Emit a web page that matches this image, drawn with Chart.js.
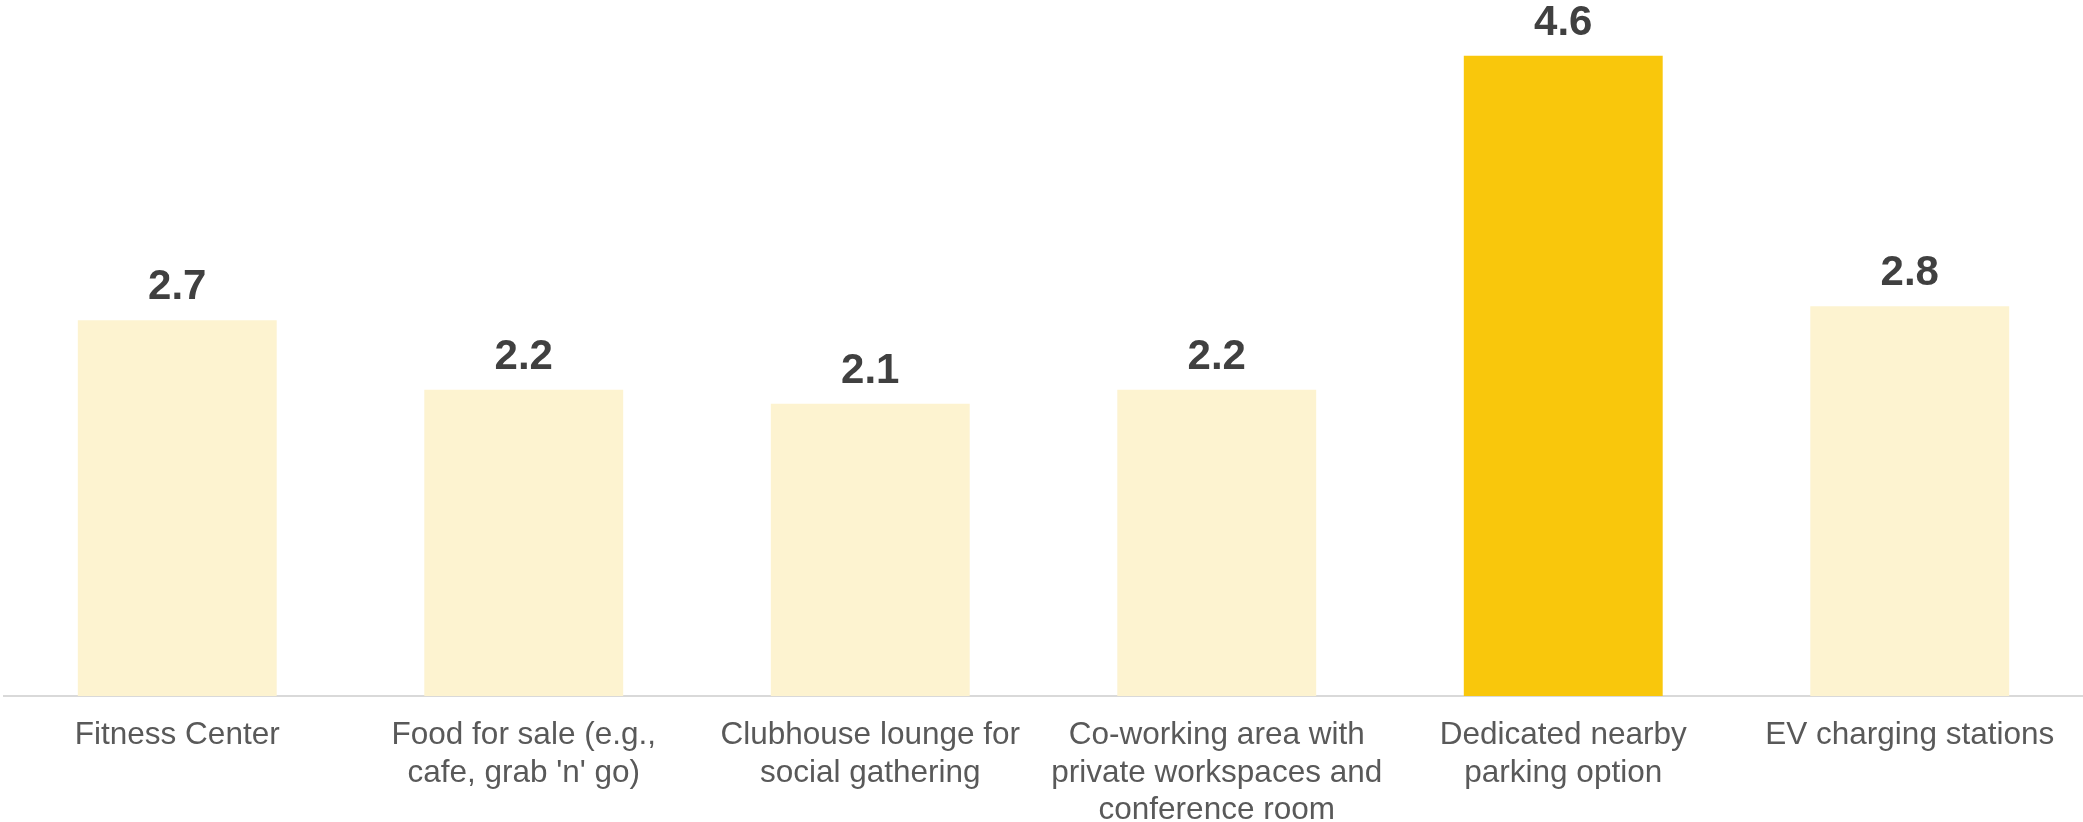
<!DOCTYPE html>
<html>
<head>
<meta charset="utf-8">
<title>Amenity ratings</title>
<script src="https://cdn.jsdelivr.net/npm/chart.js@4.4.1/dist/chart.umd.min.js"></script>
<style>
  html, body { margin: 0; padding: 0; background: #ffffff; }
  #wrap { width: 2083px; height: 822px; position: relative; }
</style>
</head>
<body>
<div id="wrap"><canvas id="chart"></canvas></div>
<script>
// Amenity categories (each entry is the list of lines shown under the bar)
const categories = [
  ["Fitness Center"],
  ["Food for sale (e.g.,", "cafe, grab 'n' go)"],
  ["Clubhouse lounge for", "social gathering"],
  ["Co-working area with", "private workspaces and", "conference room"],
  ["Dedicated nearby", "parking option"],
  ["EV charging stations"]
];

// Average rating per amenity
const ratings = [2.7, 2.2, 2.1, 2.2, 4.6, 2.8];

// Which amenity is highlighted
const highlightIndex = 4;

const LIGHT = '#FDF3D0';
const STRONG = '#F9C70C';

// Writes each bar's value above it
const valueLabels = {
  id: 'valueLabels',
  afterDatasetsDraw(chart) {
    const ctx = chart.ctx;
    const meta = chart.getDatasetMeta(0);
    ctx.save();
    ctx.font = 'bold 42px "Liberation Sans", Arial, sans-serif';
    ctx.fillStyle = '#404040';
    ctx.textAlign = 'center';
    ctx.textBaseline = 'alphabetic';
    meta.data.forEach((bar, i) => {
      ctx.fillText(ratings[i].toFixed(1), bar.x, bar.y - 21);
    });
    ctx.restore();
  }
};

new Chart(document.getElementById('chart'), {
  type: 'bar',
  data: {
    labels: categories,
    datasets: [{
      data: ratings,
      backgroundColor: ratings.map((_, i) => i === highlightIndex ? STRONG : LIGHT),
      borderWidth: 0,
      barPercentage: 0.574,
      categoryPercentage: 1.0
    }]
  },
  options: {
    responsive: true,
    maintainAspectRatio: false,
    animation: false,
    layout: { padding: { left: 4, right: 0, top: 0, bottom: 0 } },
    plugins: {
      legend: { display: false },
      tooltip: { enabled: false }
    },
    scales: {
      x: {
        grid: { display: false, drawTicks: false },
        border: { display: true, color: '#D9D9D9', width: 2 },
        ticks: {
          color: '#595959',
          padding: 21,
          maxRotation: 0,
          autoSkip: false,
          font: { family: '"Liberation Sans", Arial, sans-serif', size: 31.5, lineHeight: 1.19 }
        },
        afterFit(scale) { scale.height = 126; }
      },
      y: {
        display: false,
        min: 0,
        max: 5
      }
    }
  },
  plugins: [valueLabels]
});
</script>
</body>
</html>
